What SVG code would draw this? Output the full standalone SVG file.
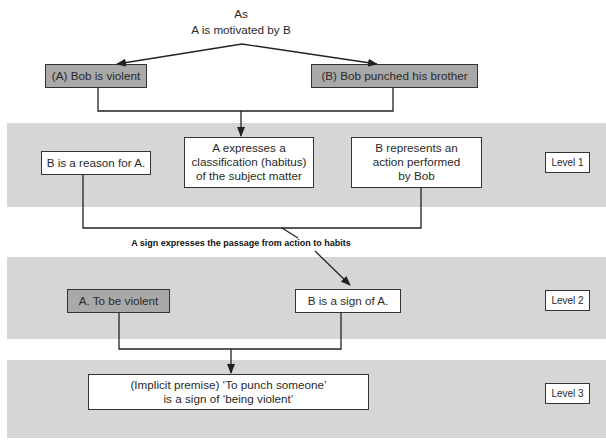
<svg xmlns="http://www.w3.org/2000/svg" width="606" height="441" viewBox="0 0 606 441">
<defs>
<marker id="ah" markerWidth="10" markerHeight="8" refX="9" refY="4" orient="auto" markerUnits="userSpaceOnUse">
<path d="M0,0 L10,4 L0,8 Z" fill="#222"/>
</marker>
<style>
.band{fill:#d6d6d6}
.box{fill:#fff;stroke:#333;stroke-width:1}
.gbox{fill:#a9a9a9;stroke:#333;stroke-width:1}
.t{font-family:"Liberation Sans",Arial,sans-serif;font-size:11.7px;fill:#2a2a2a;text-anchor:middle}
.s{font-family:"Liberation Sans",Arial,sans-serif;font-size:10px;fill:#2a2a2a;text-anchor:middle}
.b{font-family:"Liberation Sans",Arial,sans-serif;font-size:9px;font-weight:bold;fill:#111;text-anchor:middle}
.c{fill:none;stroke:#222;stroke-width:1.3}
</style>
</defs>
<rect class="band" x="7" y="123" width="599" height="84"/>
<rect class="band" x="7" y="257" width="599" height="82"/>
<rect class="band" x="7" y="360" width="599" height="78"/>

<g id="header">
<text class="t" x="241" y="18">As</text>
<text class="t" x="241" y="34">A is motivated by B</text>
</g>
<g id="nodeA"><rect class="gbox" x="45.5" y="64.5" width="101" height="23"/><text class="t" x="96" y="80">(A) Bob is violent</text></g>
<g id="nodeB"><rect class="gbox" x="311.5" y="64.5" width="166" height="23"/><text class="t" x="394.5" y="80">(B) Bob punched his brother</text></g>
<g id="reason"><rect class="box" x="41.5" y="151.5" width="109" height="23"/><text class="t" x="96" y="167">B is a reason for A.</text></g>
<g id="classif"><rect class="box" x="184.5" y="137.5" width="129" height="50"/><text class="t" x="249" y="152">A expresses a</text><text class="t" x="249" y="166">classification (habitus)</text><text class="t" x="249" y="180">of the subject matter</text></g>
<g id="represents"><rect class="box" x="351.5" y="137.5" width="130" height="50"/><text class="t" x="416.5" y="152">B represents an</text><text class="t" x="416.5" y="166">action performed</text><text class="t" x="416.5" y="180">by Bob</text></g>
<g id="level1"><rect class="box" x="545.5" y="152.5" width="44" height="20"/><text class="s" x="567.5" y="166">Level 1</text></g>
<g id="label"><text class="b" x="241" y="246">A sign expresses the passage from action to habits</text></g>
<g id="violent"><rect class="gbox" x="67.5" y="289.5" width="102" height="23"/><text class="t" x="118.5" y="305">A. To be violent</text></g>
<g id="sign"><rect class="box" x="295.5" y="289.5" width="105" height="23"/><text class="t" x="348" y="305">B is a sign of A.</text></g>
<g id="level2"><rect class="box" x="545.5" y="290.5" width="44" height="20"/><text class="s" x="567.5" y="304">Level 2</text></g>
<g id="premise"><rect class="box" x="88.5" y="374.5" width="280" height="35"/><text class="t" x="228.5" y="389">(Implicit premise) ‘To punch someone’</text><text class="t" x="228.5" y="403">is a sign of ‘being violent’</text></g>
<g id="level3"><rect class="box" x="545.5" y="383.5" width="44" height="20"/><text class="s" x="567.5" y="397">Level 3</text></g>

<g id="connectors">
<path class="c" d="M242,44 L117,64" marker-end="url(#ah)"/>
<path class="c" d="M242,44 L377,64" marker-end="url(#ah)"/>
<path class="c" d="M98,88 V111 H393 V88"/>
<path class="c" d="M241,111 V136" marker-end="url(#ah)"/>
<path class="c" d="M83,175 V228 H421 V188"/>
<path class="c" d="M282,228 L298,238"/>
<path class="c" d="M315,251 L350,285" marker-end="url(#ah)"/>
<path class="c" d="M119,313 V349 H341 V313"/>
<path class="c" d="M231,349 V373" marker-end="url(#ah)"/>
</g>
</svg>
